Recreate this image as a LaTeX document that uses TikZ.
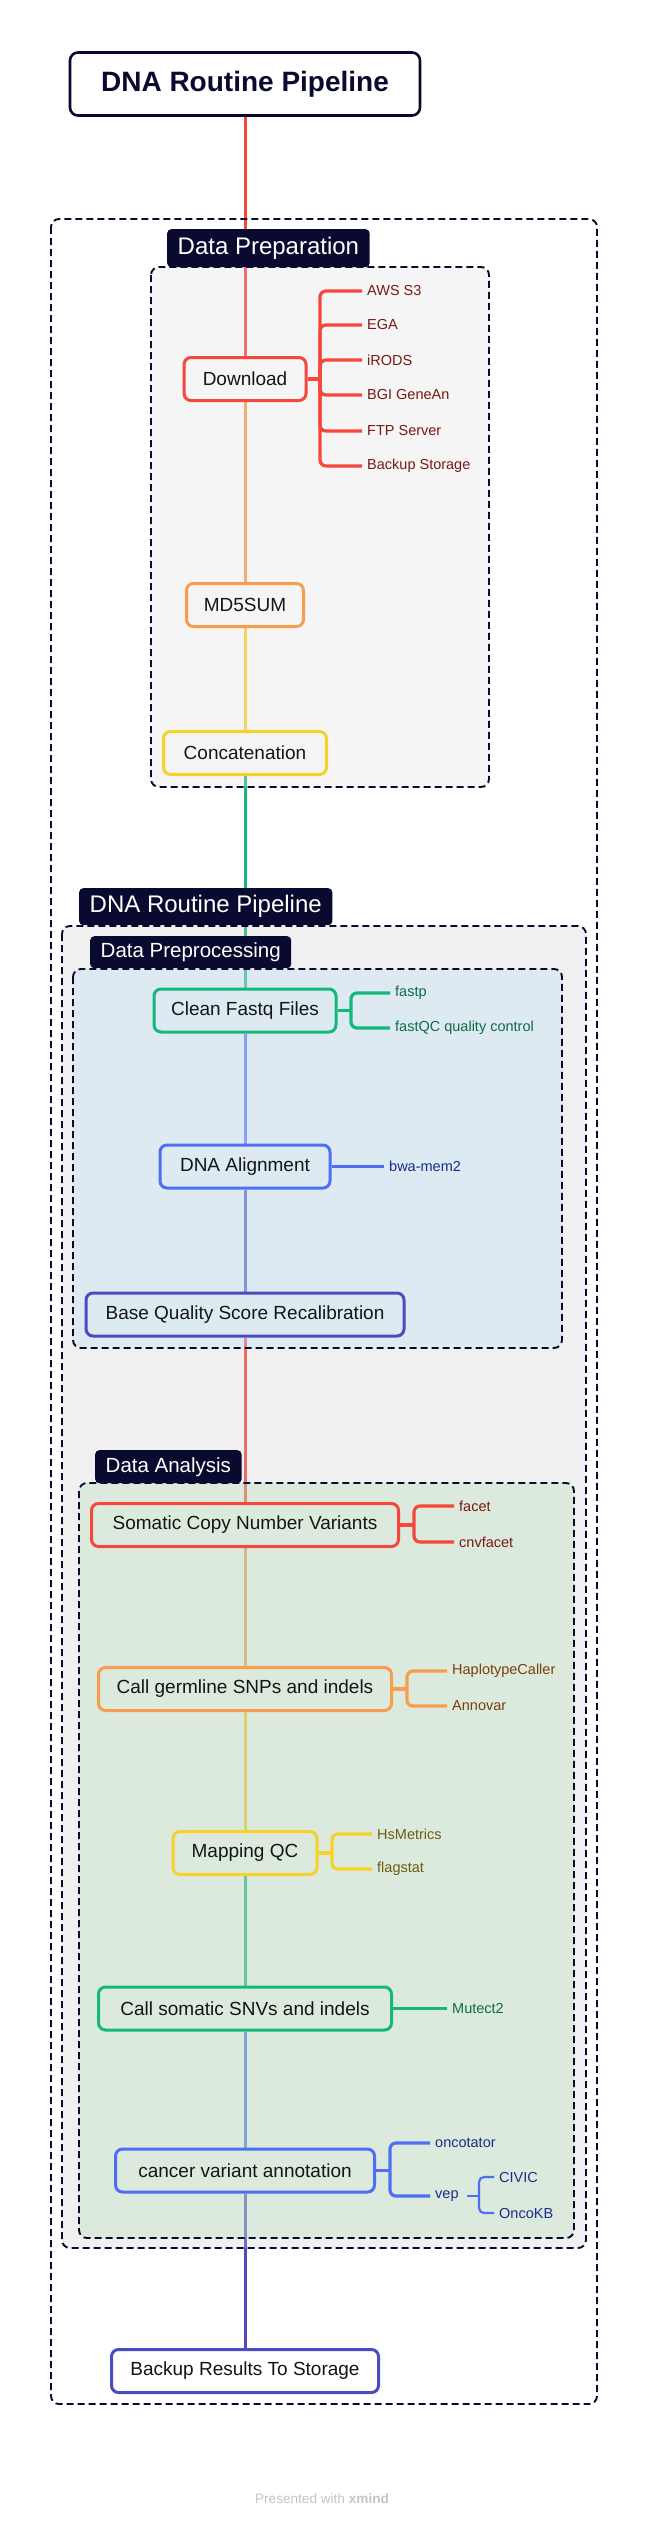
\documentclass[tikz,border=0pt]{standalone}
\usepackage{fontspec}
\setmainfont{Liberation Sans}
\pgfdeclarelayer{lines}
\pgfdeclarelayer{boxes}
\pgfsetlayers{lines,boxes,main}
\definecolor{navy}{HTML}{0A0A30}
\definecolor{txt}{HTML}{151515}
\definecolor{cred}{HTML}{F7463B}
\definecolor{cora}{HTML}{F89C4D}
\definecolor{cyel}{HTML}{F5D12A}
\definecolor{cgrn}{HTML}{14B87A}
\definecolor{cblu}{HTML}{4E6FF3}
\definecolor{cind}{HTML}{4B4BC2}
\definecolor{tred}{HTML}{7A1814}
\definecolor{tora}{HTML}{7A3F0C}
\definecolor{tyel}{HTML}{6B5C12}
\definecolor{tgrn}{HTML}{0F6B48}
\definecolor{tblu}{HTML}{1A2B8C}
\definecolor{fprep}{RGB}{222,222,222}
\definecolor{fgray}{RGB}{205,205,205}
\definecolor{fblue}{RGB}{177,223,247}
\definecolor{fgreen}{RGB}{173,223,177}
\definecolor{foot}{HTML}{C4C4C4}
\tikzset{
  stepnode/.style={draw, line width=3pt, rounded corners=7pt, minimum height=43pt,
    inner sep=0pt, text=txt, font=\fontsize{19}{22}\selectfont},
  conn/.style={line width=3pt},
  br/.style={line width=3.2pt, rounded corners=6pt},
  sbr/.style={line width=2.2pt, rounded corners=5pt},
  lab/.style={anchor=west, inner xsep=5pt, inner ysep=1pt, font=\fontsize{14.5}{17}\selectfont},
  grp/.style={fill=navy, text=white, rounded corners=4pt, anchor=north west,
    inner xsep=10.5pt, inner ysep=0pt},
  dbox/.style={line width=1.9pt, dash pattern=on 7pt off 4pt, draw=navy, rounded corners=8pt},
  boxfill/.style={fill opacity=0.3, rounded corners=8pt},
}
\begin{document}
\begin{tikzpicture}[x=1pt,y=-1pt]
\useasboundingbox (0,0) rectangle (645,2535);

% ---------- main nodes ----------
\node[draw=navy, line width=2.6pt, rounded corners=8pt, fill=white, minimum width=350pt,
  minimum height=63pt, text=navy, font=\bfseries\fontsize{28}{32}\selectfont] (title) at (245,84) {DNA Routine Pipeline};
\node[stepnode, draw=cred, minimum width=122pt] (dl) at (245,379) {Download};
\node[stepnode, draw=cora, minimum width=117pt] (md5) at (245,605) {MD5SUM};
\node[stepnode, draw=cyel, minimum width=163pt] (cat) at (245,753) {Concatenation};
\node[stepnode, draw=cgrn, minimum width=182pt] (clean) at (245,1010.5) {Clean Fastq Files};
\node[stepnode, draw=cblu, minimum width=170pt] (align) at (245,1166.5) {DNA Alignment};
\node[stepnode, draw=cind, minimum width=318pt] (bqsr) at (245,1314.5) {Base Quality Score Recalibration};
\node[stepnode, draw=cred, minimum width=307pt] (scnv) at (245,1525) {Somatic Copy Number Variants};
\node[stepnode, draw=cora, minimum width=293pt] (germ) at (245,1689) {Call germline SNPs and indels};
\node[stepnode, draw=cyel, minimum width=144pt] (mqc) at (245,1853) {Mapping QC};
\node[stepnode, draw=cgrn, minimum width=293pt] (snv) at (245,2008.5) {Call somatic SNVs and indels};
\node[stepnode, draw=cblu, minimum width=259pt] (ann) at (245,2170.5) {cancer variant annotation};
\node[stepnode, draw=cind, fill=white, minimum width=267pt] (bak) at (245,2371) {Backup Results To Storage};

% ---------- connectors (under boxes) ----------
\begin{pgfonlayer}{lines}
\draw[conn, cred] (title) -- (dl);
\draw[conn, cora] (dl) -- (md5);
\draw[conn, cyel] (md5) -- (cat);
\draw[conn, cgrn] (cat) -- (clean);
\draw[conn, cblu] (clean) -- (align);
\draw[conn, cind] (align) -- (bqsr);
\draw[conn, cred] (bqsr) -- (scnv);
\draw[conn, cora] (scnv) -- (germ);
\draw[conn, cyel] (germ) -- (mqc);
\draw[conn, cgrn] (mqc) -- (snv);
\draw[conn, cblu] (snv) -- (ann);
\draw[conn, cind] (ann) -- (bak);
\end{pgfonlayer}

% ---------- group boxes ----------
\begin{pgfonlayer}{boxes}
\draw[dbox] (51,219) rectangle (597,2404);
% Data Preparation
\fill[fprep, boxfill] (151,267) rectangle (489,787);
\node[grp, minimum height=38pt, font=\fontsize{24}{28}\selectfont] (lprep) at (167,229) {Data Preparation};
\draw[dbox] (151,267) rectangle (489,787);
% DNA Routine Pipeline group
\fill[fgray, boxfill] (62,926) rectangle (586,2248);
\node[grp, minimum height=37pt, font=\fontsize{24}{28}\selectfont] (lpipe) at (79,888) {DNA Routine Pipeline};
\draw[dbox] (62,926) rectangle (586,2248);
% Data Preprocessing
\fill[fblue, boxfill] (73,969) rectangle (562,1348);
\node[grp, minimum height=32pt, font=\fontsize{20.5}{24}\selectfont] (lpre) at (90,936) {Data Preprocessing};
\draw[dbox] (73,969) rectangle (562,1348);
% Data Analysis
\fill[fgreen, boxfill] (79,1483) rectangle (574,2238);
\node[grp, minimum height=33pt, font=\fontsize{20.5}{24}\selectfont] (lana) at (95,1450) {Data Analysis};
\draw[dbox] (79,1483) rectangle (574,2238);
\end{pgfonlayer}

% ---------- branches: Download ----------
\node[lab, text=tred] (aws) at (362,291) {AWS S3};
\node[lab, text=tred] (ega) at (362,325) {EGA};
\node[lab, text=tred] (irods) at (362,360) {iRODS};
\node[lab, text=tred] (bgi) at (362,395) {BGI GeneAn};
\node[lab, text=tred] (ftp) at (362,431) {FTP Server};
\node[lab, text=tred] (bks) at (362,466) {Backup Storage};
\coordinate (dlb) at (320,379);
\draw[br, cred] (dl.east) -- (dlb);
\foreach \c in {aws,ega,irods,bgi,ftp,bks} \draw[br, cred] (dlb) |- (\c.west);

% ---------- Clean Fastq ----------
\node[lab, text=tgrn] (fastp) at (390,993) {fastp};
\node[lab, text=tgrn] (fastqc) at (390,1028) {fastQC quality control};
\coordinate (clb) at (351,1010.5);
\draw[br, cgrn] (clean.east) -- (clb);
\foreach \c in {fastp,fastqc} \draw[br, cgrn] (clb) |- (\c.west);

% ---------- DNA Alignment ----------
\node[lab, text=tblu] (bwa) at (384,1166.5) {bwa-mem2};
\draw[br, cblu] (align.east) -- (bwa.west);

% ---------- Somatic CNV ----------
\node[lab, text=tred] (facet) at (454,1506) {facet};
\node[lab, text=tred] (cnvf) at (454,1542) {cnvfacet};
\coordinate (scb) at (414,1525);
\draw[br, cred] (scnv.east) -- (scb);
\foreach \c in {facet,cnvf} \draw[br, cred] (scb) |- (\c.west);

% ---------- germline ----------
\node[lab, text=tora] (hap) at (447,1671) {HaplotypeCaller};
\node[lab, text=tora] (annov) at (447,1706) {Annovar};
\coordinate (gmb) at (407,1689);
\draw[br, cora] (germ.east) -- (gmb);
\foreach \c in {hap,annov} \draw[br, cora] (gmb) |- (\c.west);

% ---------- Mapping QC ----------
\node[lab, text=tyel] (hsm) at (372,1834) {HsMetrics};
\node[lab, text=tyel] (flag) at (372,1869) {flagstat};
\coordinate (mqb) at (332,1853);
\draw[br, cyel] (mqc.east) -- (mqb);
\foreach \c in {hsm,flag} \draw[br, cyel] (mqb) |- (\c.west);

% ---------- somatic SNVs ----------
\node[lab, text=tgrn] (mut) at (447,2008.5) {Mutect2};
\draw[br, cgrn] (snv.east) -- (mut.west);

% ---------- annotation ----------
\node[lab, text=tblu] (onco) at (430,2143) {oncotator};
\node[lab, text=tblu] (vep) at (430,2196) {vep};
\coordinate (anb) at (390,2170.5);
\draw[br, cblu] (ann.east) -- (anb);
\foreach \c in {onco,vep} \draw[br, cblu] (anb) |- (\c.west);
\node[lab, text=tblu] (civic) at (494,2177) {CIVIC};
\node[lab, text=tblu] (okb) at (494,2213) {OncoKB};
\coordinate (vpa) at (467,2196);
\coordinate (vpb) at (479,2196);
\draw[sbr, cblu] (vpa) -- (vpb);
\foreach \c in {civic,okb} \draw[sbr, cblu] (vpb) |- (\c.west);

% ---------- footer ----------
\node[text=foot, font=\fontsize{13.6}{16}\selectfont] (footer) at (322,2499) {Presented with \textbf{xmind}};
\end{tikzpicture}
\end{document}
